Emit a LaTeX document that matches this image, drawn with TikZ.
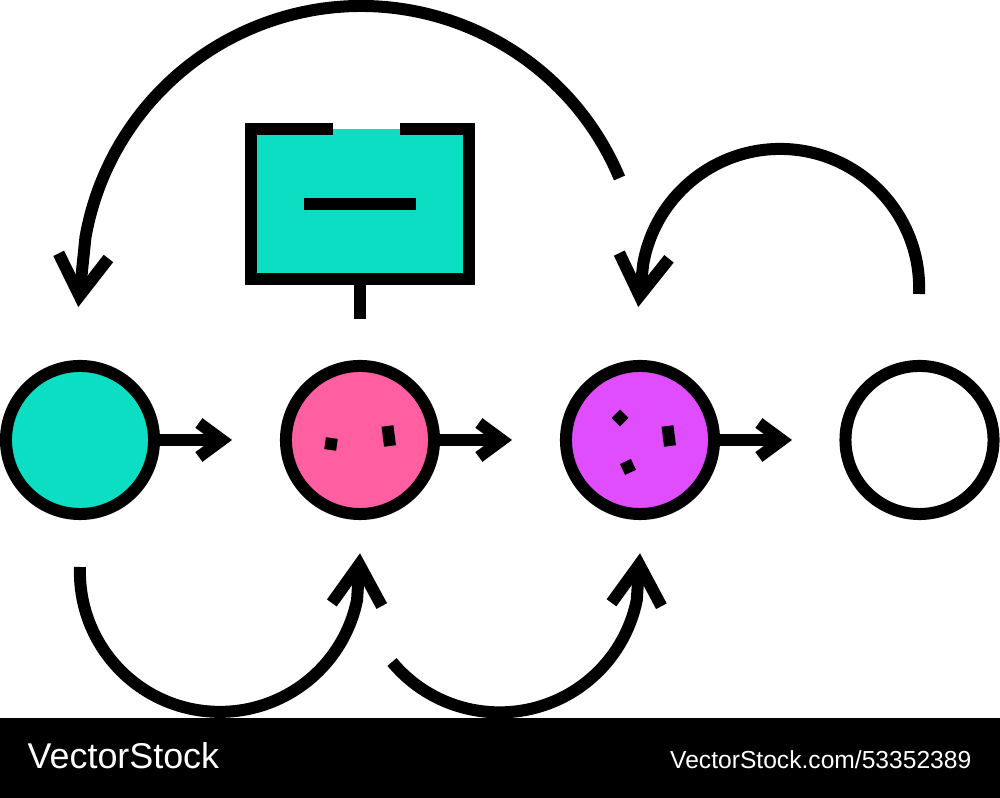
\documentclass[tikz,border=0pt]{standalone}
\usepackage{fontspec}
\setmainfont{Liberation Sans}
\usetikzlibrary{arrows.meta}
\definecolor{tealfill}{RGB}{11,222,194}
\definecolor{pinkfill}{RGB}{255,95,160}
\definecolor{violetfill}{RGB}{224,77,255}
\tikzset{
  stroke/.style ={line width=1.2mm, black},
  state/.style  ={stroke, draw, circle, minimum size=1.48cm, inner sep=0pt, outer sep=0pt},
  flow/.style   ={stroke, -{Straight Barb[length=2.3mm, width=3.4mm]}},
  loopflow/.style={stroke, -{Straight Barb[length=4.0mm, width=5.0mm]}},
  speck/.style  ={fill=black, minimum size=1.2mm, inner sep=0pt, outer sep=0pt},
}
\begin{document}
\begin{tikzpicture}[x=0.01cm,y=0.01cm]
  \useasboundingbox (0,0) rectangle (1000,798);

  % row of states
  \node[state, fill=tealfill] (first) at (80,358) {};
  \node[state, fill=pinkfill] (second) at (360,358) {};
  \node[state, fill=violetfill] (third) at (640,358) {};
  \node[state, fill=white] (fourth) at (919.5,358) {};

  % specks inside the states
  \foreach \x/\y/\r/\n in {331/354/-8/pa, 620/380/45/pb, 628/331/25/pc}
    \node[speck, rotate=\r] (\n) at (\x,\y) {};
  \draw[stroke] (387.5,372) .. controls (389.7,362) .. (390,352);
  \draw[stroke] (667.5,372) .. controls (669.7,362) .. (670,352);

  % arrows between the states
  \coordinate (firstEnd) at (232,358);
  \coordinate (secondEnd) at (512,358);
  \coordinate (thirdEnd) at (792,358);
  \draw[flow] (first.east) -- (firstEnd);
  \draw[flow] (second.east) -- (secondEnd);
  \draw[flow] (third.east) -- (thirdEnd);

  % board above the second state
  \node[fill=tealfill, minimum width=2.18cm, minimum height=1.5cm, inner sep=0pt, outer sep=0pt] (board) at (360,594) {};
  \draw[stroke, miter limit=10] (333,669) -- (251,669) -- (251,519) -- (469,519) -- (469,669) -- (400,669);
  \draw[stroke] (304,594) -- (416,594);
  \coordinate (stemEnd) at (360,479);
  \draw[stroke] (board.south) -- (stemEnd);

  % curved arrows above
  \coordinate (topStart) at (619.5,620);
  \coordinate (topTip) at (78.3,491);
  \coordinate (rightStart) at (919,504);
  \coordinate (rightTip) at (638.3,491);
  \draw[loopflow] (topStart) arc[start angle=22.7, end angle=170, radius=280] -- (topTip);
  \draw[loopflow] (rightStart) arc[start angle=-2.5, end angle=170, radius=139] -- (rightTip);

  % curved arrows below
  \coordinate (lowStart) at (80,231);
  \coordinate (lowTip) at (360,244.7);
  \coordinate (midStart) at (392,136);
  \coordinate (midTip) at (640,244.7);
  \draw[loopflow] (lowStart) arc[start angle=178, end angle=348.5, radius=140] -- (lowTip);
  \draw[loopflow] (midStart) arc[start angle=219.8, end angle=348.5, radius=140] -- (midTip);

  % bottom strip
  \fill[black] (0,0) rectangle (1000,80);
  \node[white, anchor=base west, font=\fontsize{10.2pt}{12pt}\selectfont, inner sep=0pt] (brand) at (27,29) {VectorStock};
  \node[white, anchor=base east, font=\fontsize{7pt}{9pt}\selectfont, inner sep=0pt] (ref) at (972,29) {VectorStock.com/53352389};
\end{tikzpicture}
\end{document}
